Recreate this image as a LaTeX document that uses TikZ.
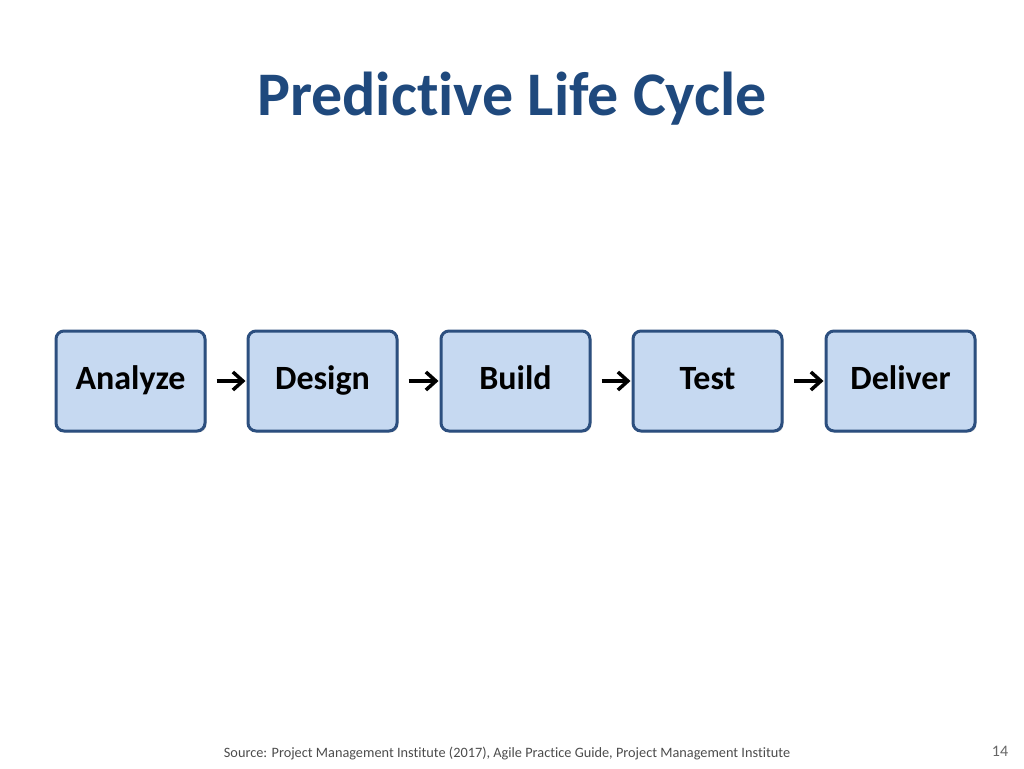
\documentclass[tikz,border=0pt]{standalone}
\usepackage{fontspec}
\setmainfont[Ligatures=NoCommon]{Carlito}
\usetikzlibrary{arrows.meta,shadows}
\definecolor{titleblue}{HTML}{1F497D}
\definecolor{boxfill}{HTML}{C6D9F1}
\definecolor{boxline}{HTML}{2C4F7F}
\tikzset{
  stage/.style={draw=boxline, line width=3pt, fill=boxfill, rounded corners=8pt,
    minimum width=149pt, minimum height=100pt, text height=24pt, text depth=7pt,
    font=\bfseries\fontsize{34}{38}\selectfont,
    drop shadow={shadow xshift=1.5pt, shadow yshift=-1.5pt, opacity=0.3}},
  flow/.style={-{Straight Barb[length=10pt,width=18pt,line width=3.5pt]}, line width=3.5pt, shorten <=10pt, shorten >=1pt}
}
\begin{document}
\begin{tikzpicture}[x=1pt,y=-1pt]
\useasboundingbox (0,0) rectangle (1024,768);
\node[font=\bfseries\fontsize{62}{68}\selectfont, text=titleblue] (title) at (512,99) {Predictive Life Cycle};
\node[stage] (a) at (130.5,381) {Analyze};
\node[stage] (d) at (322.5,381) {Design};
\node[stage] (b) at (515.5,381) {Build};
\node[stage] (t) at (707.5,381) {Test};
\node[stage] (v) at (900.5,381) {Deliver};
\draw[flow] (a) -- (d);
\draw[flow] (d) -- (b);
\draw[flow] (b) -- (t);
\draw[flow] (t) -- (v);
\node[font=\fontsize{14.3}{16}\selectfont, text=black!70] (src) at (507,753) {Source: Project Management Institute (2017), Agile Practice Guide, Project Management Institute};
\node[font=\fontsize{16}{18}\selectfont, text=black!60] (pg) at (1000,751) {14};
\end{tikzpicture}
\end{document}
